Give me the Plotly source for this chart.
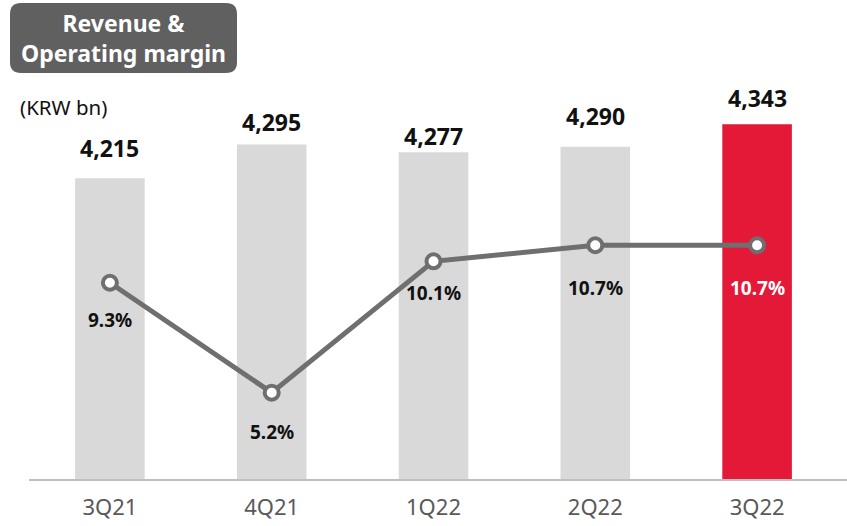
import plotly.graph_objects as go

# Quarterly revenue (KRW bn) and operating margin (%)
quarters = ["3Q21", "4Q21", "1Q22", "2Q22", "3Q22"]
revenue = [4215, 4295, 4277, 4290, 4343]
op_margin = [9.3, 5.2, 10.1, 10.7, 10.7]
revenue_labels = ["4,215", "4,295", "4,277", "4,290", "4,343"]
margin_labels = ["9.3%", "5.2%", "10.1%", "10.7%", "10.7%"]

W, H = 847, 526
M_L, M_R, M_T, M_B = 29, 9, 100, 46
PW, PH = W - M_L - M_R, H - M_T - M_B

FONT = "Noto Sans"
GREY_BAR = "#d9d9d9"
RED_BAR = "#e31937"
LINE_GREY = "#6f6f6f"

bar_colors = [GREY_BAR] * (len(quarters) - 1) + [RED_BAR]
margin_text_colors = ["#111111"] * (len(quarters) - 1) + ["#ffffff"]
revenue_label_shift = [30, 23, 16, 31, 26]
margin_label_shift = [-37, -39, -32, -43, -43]


def px_x(p):
    return (p - M_L) / PW


def px_y(p):
    return (H - M_B - p) / PH


def rounded_box(x0, y0, x1, y1, r):
    # rounded rectangle path in paper coordinates from pixel corners
    a, b = px_x(x0), px_x(x1)
    c, d = px_y(y0), px_y(y1)
    rx, ry = r / PW, r / PH
    return (f"M {a + rx},{c} L {b - rx},{c} Q {b},{c} {b},{c - ry} "
            f"L {b},{d + ry} Q {b},{d} {b - rx},{d} L {a + rx},{d} "
            f"Q {a},{d} {a},{d + ry} L {a},{c - ry} Q {a},{c} {a + rx},{c} Z")


fig = go.Figure()

fig.add_trace(go.Bar(
    x=quarters, y=revenue, marker=dict(color=bar_colors, line=dict(width=0)),
    width=0.43, hoverinfo="skip",
))

fig.add_trace(go.Scatter(
    x=quarters, y=op_margin, yaxis="y2", mode="lines+markers",
    line=dict(color=LINE_GREY, width=5),
    marker=dict(size=14, color="white", line=dict(color=LINE_GREY, width=4)),
    hoverinfo="skip", cliponaxis=False,
))

for q, v, t, s in zip(quarters, revenue, revenue_labels, revenue_label_shift):
    fig.add_annotation(x=q, y=v, yref="y", text=t, showarrow=False, yshift=s,
                       yanchor="middle",
                       font=dict(family=FONT, size=23, color="#111111", weight="bold"))

for q, v, t, c, s in zip(quarters, op_margin, margin_labels, margin_text_colors, margin_label_shift):
    fig.add_annotation(x=q, y=v, yref="y2", text=t, showarrow=False, yshift=s,
                       yanchor="middle",
                       font=dict(family=FONT, size=19, color=c, weight="bold"))

# Baseline running to the right edge
fig.add_shape(type="line", xref="paper", yref="paper",
              x0=0, x1=px_x(W), y0=0, y1=0,
              line=dict(color="#bfbfbf", width=2), layer="above")

# Title badge
fig.add_shape(type="path", xref="paper", yref="paper",
              path=rounded_box(10, 3, 237, 73, 11),
              fillcolor="#606060", line=dict(width=0), layer="below")
fig.add_annotation(xref="paper", yref="paper", x=px_x(123.5), y=px_y(38),
                   xanchor="center", yanchor="middle",
                   text="Revenue &<br>Operating margin", showarrow=False,
                   font=dict(family=FONT, size=23, color="white", weight="bold"),
                   align="center")
fig.add_annotation(xref="paper", yref="paper", x=px_x(18), y=px_y(107),
                   xanchor="left", yanchor="middle", text="(KRW bn)", showarrow=False,
                   font=dict(family=FONT, size=20.5, color="#111111"))

fig.update_layout(
    width=W, height=H, margin=dict(l=M_L, r=M_R, t=M_T, b=M_B),
    paper_bgcolor="white", plot_bgcolor="white", showlegend=False,
    xaxis=dict(range=[-0.5, 4.5], showline=False,
               showgrid=False, ticks="", ticklabelstandoff=12, automargin=False,
               tickfont=dict(family=FONT, size=22, color="#595959")),
    yaxis=dict(range=[3500, 4400.7], visible=False, showgrid=False, automargin=False),
    yaxis2=dict(range=[1.94, 16.12], overlaying="y", visible=False, showgrid=False,
                automargin=False),
)

fig.write_html("out.html")
